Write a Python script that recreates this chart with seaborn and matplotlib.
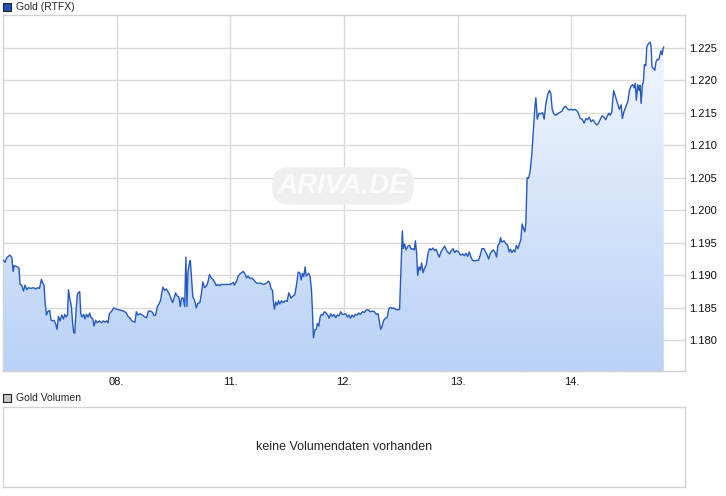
import numpy as np
import pandas as pd
import matplotlib
matplotlib.use("Agg")
import matplotlib.pyplot as plt
import seaborn as sns

# trading-day position (0 = start of 07.) and Gold price (RTFX)
t = [0.004, 0.018, 0.033, 0.060, 0.077, 0.089, 0.098, 0.127, 0.141, 0.150,
     0.165, 0.180, 0.194, 0.209, 0.224, 0.244, 0.268, 0.288, 0.303, 0.321,
     0.338, 0.350, 0.361, 0.370, 0.382, 0.396, 0.411, 0.423, 0.438, 0.449,
     0.464, 0.475, 0.488, 0.502, 0.517, 0.532, 0.543, 0.554, 0.567, 0.576,
     0.587, 0.602, 0.613, 0.622, 0.631, 0.642, 0.655, 0.663, 0.675, 0.684,
     0.695, 0.710, 0.721, 0.734, 0.748, 0.763, 0.774, 0.789, 0.801, 0.815,
     0.830, 0.848, 0.866, 0.883, 0.897, 0.912, 0.924, 0.936, 0.956, 0.976,
     0.997, 1.020, 1.041, 1.064, 1.085, 1.099, 1.114, 1.129, 1.143, 1.161,
     1.173, 1.187, 1.205, 1.226, 1.246, 1.264, 1.279, 1.299, 1.316, 1.328,
     1.343, 1.358, 1.375, 1.387, 1.395, 1.407, 1.422, 1.437, 1.451, 1.466,
     1.481, 1.492, 1.507, 1.518, 1.533, 1.547, 1.560, 1.571, 1.586, 1.598,
     1.609, 1.618, 1.627, 1.639, 1.648, 1.659, 1.670, 1.685, 1.700, 1.714,
     1.732, 1.744, 1.758, 1.773, 1.791, 1.802, 1.817, 1.832, 1.846, 1.861,
     1.876, 1.890, 1.905, 1.920, 1.958, 2.002, 2.026, 2.037, 2.055, 2.069,
     2.090, 2.113, 2.127, 2.142, 2.157, 2.171, 2.186, 2.206, 2.230, 2.265,
     2.294, 2.318, 2.336, 2.347, 2.359, 2.371, 2.380, 2.388, 2.400, 2.412,
     2.424, 2.435, 2.450, 2.465, 2.482, 2.500, 2.514, 2.523, 2.535, 2.549,
     2.567, 2.582, 2.597, 2.611, 2.623, 2.634, 2.646, 2.658, 2.667, 2.678,
     2.690, 2.702, 2.714, 2.722, 2.731, 2.743, 2.755, 2.766, 2.778, 2.790,
     2.801, 2.813, 2.828, 2.843, 2.857, 2.869, 2.883, 2.898, 2.913, 2.927,
     2.942, 2.957, 2.971, 2.986, 3.001, 3.015, 3.030, 3.045, 3.056, 3.071,
     3.085, 3.100, 3.115, 3.129, 3.144, 3.162, 3.179, 3.197, 3.214, 3.232,
     3.250, 3.267, 3.285, 3.300, 3.311, 3.323, 3.335, 3.349, 3.364, 3.379,
     3.393, 3.408, 3.423, 3.437, 3.452, 3.475, 3.489, 3.502, 3.513, 3.522,
     3.533, 3.546, 3.563, 3.577, 3.592, 3.607, 3.619, 3.628, 3.639, 3.648,
     3.660, 3.672, 3.683, 3.695, 3.709, 3.724, 3.739, 3.753, 3.768, 3.783,
     3.797, 3.812, 3.823, 3.838, 3.853, 3.867, 3.885, 3.900, 3.915, 3.929,
     3.944, 3.959, 3.973, 3.988, 4.008, 4.026, 4.043, 4.058, 4.073, 4.087,
     4.102, 4.117, 4.131, 4.149, 4.166, 4.184, 4.199, 4.213, 4.231, 4.245,
     4.260, 4.272, 4.286, 4.301, 4.315, 4.330, 4.342, 4.354, 4.368, 4.377,
     4.389, 4.407, 4.424, 4.439, 4.454, 4.465, 4.477, 4.492, 4.504, 4.516,
     4.530, 4.545, 4.556, 4.567, 4.579, 4.591, 4.600, 4.611, 4.623, 4.638,
     4.653, 4.668, 4.680, 4.688, 4.700, 4.715, 4.733, 4.747, 4.761, 4.776,
     4.794, 4.808, 4.820, 4.831, 4.843, 4.860, 4.878, 4.896, 4.917, 4.931,
     4.946, 4.961, 4.978, 4.996, 5.013, 5.031, 5.048, 5.062, 5.078, 5.095,
     5.113, 5.128, 5.142, 5.157, 5.174, 5.192, 5.209, 5.224, 5.236, 5.253,
     5.270, 5.288, 5.302, 5.316, 5.331, 5.340, 5.355, 5.372, 5.389, 5.407,
     5.423, 5.438, 5.449, 5.464, 5.479, 5.497, 5.511, 5.526, 5.541, 5.552,
     5.563, 5.572, 5.585, 5.596, 5.605, 5.614, 5.625, 5.634, 5.643, 5.655,
     5.664, 5.678, 5.693, 5.701, 5.710, 5.721, 5.734, 5.745, 5.757, 5.769,
     5.780, 5.789, 5.798, 5.807, 5.813]

price = [1.1923, 1.1920, 1.1927, 1.1931, 1.1928, 1.1906, 1.1915, 1.1913, 1.1911, 1.1886,
         1.1885, 1.1876, 1.1885, 1.1878, 1.1881, 1.1880, 1.1881, 1.1879, 1.1881, 1.1880,
         1.1894, 1.1888, 1.1885, 1.1859, 1.1839, 1.1845, 1.1846, 1.1831, 1.1830, 1.1831,
         1.1825, 1.1817, 1.1837, 1.1830, 1.1839, 1.1833, 1.1840, 1.1836, 1.1839, 1.1878,
         1.1865, 1.1852, 1.1826, 1.1812, 1.1811, 1.1844, 1.1872, 1.1873, 1.1875, 1.1841,
         1.1836, 1.1840, 1.1833, 1.1840, 1.1836, 1.1842, 1.1835, 1.1834, 1.1822, 1.1831,
         1.1827, 1.1830, 1.1827, 1.1830, 1.1828, 1.1830, 1.1827, 1.1841, 1.1845, 1.1850,
         1.1848, 1.1847, 1.1846, 1.1845, 1.1842, 1.1837, 1.1835, 1.1831, 1.1829, 1.1828,
         1.1844, 1.1839, 1.1841, 1.1839, 1.1836, 1.1835, 1.1845, 1.1845, 1.1843, 1.1838,
         1.1839, 1.1852, 1.1857, 1.1862, 1.1871, 1.1882, 1.1877, 1.1879, 1.1875, 1.1870,
         1.1863, 1.1858, 1.1866, 1.1873, 1.1868, 1.1867, 1.1852, 1.1865, 1.1865, 1.1852,
         1.1928, 1.1852, 1.1905, 1.1918, 1.1923, 1.1896, 1.1867, 1.1862, 1.1850, 1.1857,
         1.1858, 1.1870, 1.1890, 1.1881, 1.1884, 1.1889, 1.1901, 1.1896, 1.1894, 1.1890,
         1.1884, 1.1886, 1.1884, 1.1886, 1.1886, 1.1886, 1.1889, 1.1885, 1.1891, 1.1899,
         1.1903, 1.1906, 1.1903, 1.1896, 1.1899, 1.1895, 1.1896, 1.1893, 1.1888, 1.1888,
         1.1886, 1.1888, 1.1891, 1.1888, 1.1879, 1.1877, 1.1859, 1.1848, 1.1859, 1.1854,
         1.1861, 1.1856, 1.1861, 1.1858, 1.1861, 1.1860, 1.1873, 1.1870, 1.1865, 1.1868,
         1.1870, 1.1885, 1.1905, 1.1904, 1.1893, 1.1903, 1.1898, 1.1913, 1.1899, 1.1901,
         1.1903, 1.1898, 1.1877, 1.1847, 1.1804, 1.1816, 1.1817, 1.1826, 1.1822, 1.1836,
         1.1840, 1.1839, 1.1844, 1.1842, 1.1839, 1.1834, 1.1841, 1.1837, 1.1840, 1.1835,
         1.1839, 1.1838, 1.1844, 1.1840, 1.1840, 1.1841, 1.1836, 1.1839, 1.1834, 1.1839,
         1.1836, 1.1840, 1.1839, 1.1842, 1.1840, 1.1844, 1.1843, 1.1847, 1.1847, 1.1844,
         1.1845, 1.1844, 1.1840, 1.1841, 1.1829, 1.1817, 1.1822, 1.1831, 1.1834, 1.1835,
         1.1848, 1.1851, 1.1849, 1.1850, 1.1848, 1.1847, 1.1848, 1.1913, 1.1968, 1.1941,
         1.1948, 1.1939, 1.1945, 1.1946, 1.1940, 1.1941, 1.1939, 1.1953, 1.1934, 1.1900,
         1.1913, 1.1908, 1.1919, 1.1904, 1.1911, 1.1916, 1.1934, 1.1941, 1.1939, 1.1942,
         1.1938, 1.1940, 1.1934, 1.1928, 1.1936, 1.1940, 1.1945, 1.1939, 1.1935, 1.1933,
         1.1938, 1.1941, 1.1935, 1.1938, 1.1936, 1.1931, 1.1933, 1.1930, 1.1934, 1.1929,
         1.1936, 1.1928, 1.1923, 1.1922, 1.1923, 1.1923, 1.1931, 1.1941, 1.1941, 1.1936,
         1.1931, 1.1925, 1.1933, 1.1937, 1.1939, 1.1935, 1.1928, 1.1946, 1.1949, 1.1958,
         1.1951, 1.1953, 1.1949, 1.1946, 1.1936, 1.1940, 1.1935, 1.1939, 1.1936, 1.1946,
         1.1941, 1.1949, 1.1955, 1.1979, 1.1972, 1.1967, 1.1980, 1.2050, 1.2049, 1.2060,
         1.2088, 1.2129, 1.2160, 1.2173, 1.2140, 1.2149, 1.2148, 1.2150, 1.2140, 1.2164,
         1.2179, 1.2184, 1.2179, 1.2156, 1.2149, 1.2146, 1.2148, 1.2150, 1.2152, 1.2157,
         1.2160, 1.2157, 1.2154, 1.2155, 1.2154, 1.2155, 1.2153, 1.2149, 1.2141, 1.2140,
         1.2134, 1.2141, 1.2139, 1.2143, 1.2136, 1.2139, 1.2134, 1.2131, 1.2133, 1.2139,
         1.2145, 1.2143, 1.2139, 1.2145, 1.2149, 1.2146, 1.2150, 1.2184, 1.2174, 1.2164,
         1.2155, 1.2162, 1.2141, 1.2152, 1.2159, 1.2167, 1.2184, 1.2191, 1.2193, 1.2188,
         1.2195, 1.2169, 1.2193, 1.2184, 1.2192, 1.2164, 1.2193, 1.2197, 1.2224, 1.2222,
         1.2251, 1.2256, 1.2258, 1.2253, 1.2220, 1.2218, 1.2215, 1.2228, 1.2232, 1.2231,
         1.2239, 1.2245, 1.2239, 1.2248, 1.2251]

day_ticks = [1, 2, 3, 4, 5]
day_labels = ["08.", "11.", "12.", "13.", "14."]
price_ticks = [1.180, 1.185, 1.190, 1.195, 1.200, 1.205, 1.210, 1.215, 1.220, 1.225]

sns.set_style("white")
plt.rcParams["font.family"] = ["Liberation Sans", "DejaVu Sans"]
plt.rcParams["font.size"] = 8

line_col = "#2759bf"
grid_col = "#dadada"
frame_col = "#d2d2d2"
y_lo, y_hi = 1.1753, 1.2300

df = pd.DataFrame({"t": t, "price": price})

fig = plt.figure(figsize=(7.26, 4.96), dpi=100)
ax = fig.add_axes([3 / 726, 1 - 371 / 496, 682 / 726, 356 / 496])

# gradient area under the curve
poly = ax.fill_between(df["t"], df["price"], y_lo, color="none", lw=0)
grad = np.linspace(0, 1, 256).reshape(-1, 1)
cmap = matplotlib.colors.LinearSegmentedColormap.from_list("g", ["#b9d2f6", "#f6f9fe"])
im = ax.imshow(grad, cmap=cmap, origin="lower", aspect="auto",
               extent=[0, 6, y_lo, y_hi], zorder=1.2)
im.set_clip_path(poly.get_paths()[0], transform=ax.transData)

sns.lineplot(data=df, x="t", y="price", ax=ax, color=line_col, linewidth=1.0,
             estimator=None, sort=False, zorder=3)

ax.set_xlim(0, 6)
ax.set_ylim(y_lo, y_hi)
ax.set_xticks(day_ticks)
ax.set_xticklabels(day_labels)
ax.set_yticks(price_ticks)
ax.set_yticklabels([f"{v:.3f}" for v in price_ticks])
ax.yaxis.tick_right()
ax.tick_params(length=0, labelsize=8, colors="#111111")
ax.tick_params(axis="y", pad=3)
ax.tick_params(axis="x", pad=4.5)
ax.grid(True, color=grid_col, linewidth=1)
ax.set_axisbelow(True)
ax.set_xlabel("")
ax.set_ylabel("")
for s in ax.spines.values():
    s.set_color(frame_col)
    s.set_linewidth(1)

# watermark
ax.text(0.4985, 0.52, "ARIVA.DE", transform=ax.transAxes, ha="center", va="center",
        fontsize=20, fontweight="bold", fontstyle="italic", color="#fbfbfb",
        bbox=dict(boxstyle="round,pad=0.2,rounding_size=0.6", fc="#efefef", ec="none"),
        zorder=1.1)

# top legend
fig.patches.append(plt.Rectangle((3 / 726, 1 - 11 / 496), 8 / 726, 8 / 496,
                                 transform=fig.transFigure, fc="#1f52b8", ec="#222222", lw=0.8))
fig.text(16 / 726, 1 - 7 / 496, "Gold (RTFX)", ha="left", va="center", fontsize=7.5)

# volume panel
fig.patches.append(plt.Rectangle((3 / 726, 1 - 402 / 496), 8 / 726, 8 / 496,
                                 transform=fig.transFigure, fc="#c8c8c8", ec="#222222", lw=0.8))
fig.text(16 / 726, 1 - 398 / 496, "Gold Volumen", ha="left", va="center", fontsize=7.5)
ax2 = fig.add_axes([3 / 726, 1 - 487 / 496, 682 / 726, 80 / 496])
ax2.set_xticks([])
ax2.set_yticks([])
for s in ax2.spines.values():
    s.set_color(frame_col)
    s.set_linewidth(1)
ax2.text(0.5, 0.5, "keine Volumendaten vorhanden", transform=ax2.transAxes,
         ha="center", va="center", fontsize=9)

fig.savefig("out.png", dpi=100)
